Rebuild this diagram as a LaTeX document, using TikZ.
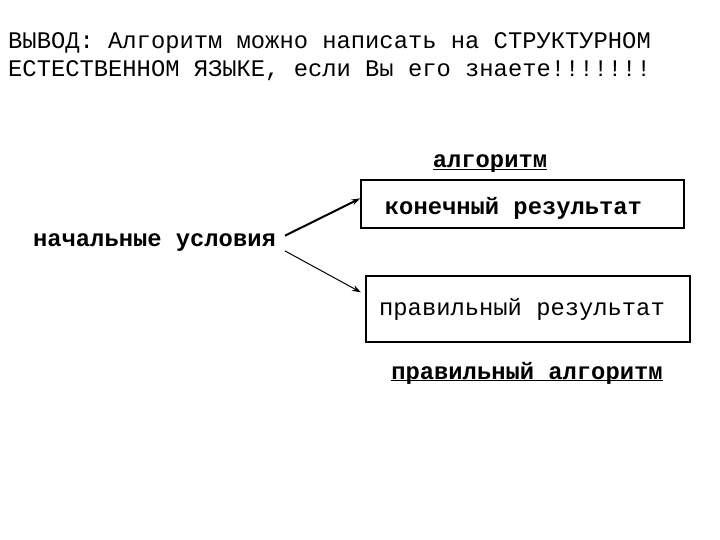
\documentclass[tikz,border=0pt]{standalone}
\usepackage{fontspec}
\setmainfont{Liberation Mono}
\usetikzlibrary{arrows.meta}

\newcommand{\ulword}[1]{\underline{\smash{#1}}}

\begin{document}
\begin{tikzpicture}[x=1bp,y=-1bp,
	txt/.style={inner sep=0pt, font=\fontsize{23.8bp}{29bp}\selectfont},
	bold/.style={inner sep=0pt, font=\fontsize{23.8bp}{29bp}\selectfont\bfseries},
	box/.style={draw, line width=1.2bp, inner sep=0pt},
	arr/.style={-{Stealth[length=9bp,width=6bp]}, shorten <=10bp}]
	\useasboundingbox (0,0) rectangle (720,540);
	
	%text
	\node[txt, anchor=base west] (line1) at (8,49)  {ВЫВОД: Алгоритм можно написать на СТРУКТУРНОМ};
	\node[txt, anchor=base west] (line2) at (8,77)  {ЕСТЕСТВЕННОМ ЯЗЫКЕ, если Вы его знаете!!!!!!!};
	
	%nodes
	\node[bold, anchor=base] (alg)    at (490,168)   {\ulword{алгоритм}};
	\node[box, minimum width=323bp, minimum height=48bp] (box1) at (522.5,204) {};
	\node[bold, anchor=base] (final)  at (513.5,215) {конечный результат};
	\node[bold, anchor=base] (start)  at (154.5,247) {начальные условия};
	\node[box, minimum width=324bp, minimum height=66bp] (box2) at (528,309) {};
	\node[txt, anchor=base]  (right)  at (522,315)   {правильный результат};
	\node[bold, anchor=base] (ralg)   at (527,379)   {\ulword{правильный алгоритм}};
	
	%lines
	\draw[arr, line width=2bp] ([yshift=3bp]start.east) -- (box1.178);	%start--box1
	\draw[arr, line width=1bp, shorten >=5bp] ([yshift=-3bp]start.east) -- (box2.175);	%start--box2
	
\end{tikzpicture}
\end{document}
